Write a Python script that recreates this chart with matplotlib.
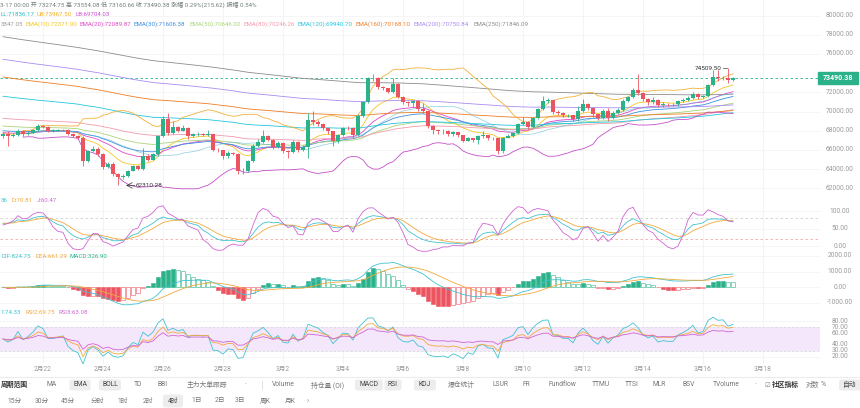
import numpy as np
import pandas as pd
import matplotlib
matplotlib.use("Agg")
import matplotlib.pyplot as plt
from matplotlib.patches import FancyBboxPatch, Rectangle

plt.rcParams['font.family'] = ['Roboto', 'Noto Sans CJK SC', 'DejaVu Sans']

W, H = 860, 408

# 4h candles, 2月20 16:00 -> 3月17 00:00
first_open = 67500
closes = [67650, 67500, 67600, 68000, 67650, 67800, 68050, 68500, 68400, 68000,
          68000, 68050, 68100, 67700, 67450, 67300, 64850, 65850, 66150, 65600,
          64200, 64550, 63500, 63150, 63250, 63850, 64300, 64050, 65400, 65000,
          65550, 67500, 69250, 67800, 68350, 68000, 68300, 67450, 67650, 67650,
          67600, 67650, 66050, 65950, 65350, 65700, 65600, 63800, 63850, 64850,
          66400, 66800, 67500, 67000, 66300, 66700, 65900, 65800, 66800, 66000,
          66350, 69100, 68900, 68700, 68250, 67950, 66950, 67550, 68300, 68250,
          67600, 69500, 71000, 73450, 73550, 72600, 72450, 72050, 72900, 71550,
          70950, 70850, 71100, 70300, 70100, 68550, 68100, 67950, 68000, 67650,
          67850, 67550, 66950, 67250, 67000, 67450, 67550, 67250, 67200, 65900,
          67300, 67500, 67750, 68750, 68950, 68350, 69350, 70300, 71150, 71250,
          69950, 69900, 69600, 69600, 69200, 70100, 70800, 70400, 69700, 69300,
          70100, 69300, 69900, 70200, 71150, 71500, 72250, 71900, 71300, 71050,
          71200, 70700, 70800, 70750, 70750, 71100, 71250, 71450, 71800, 71500,
          71600, 72800, 73600, 73450, 73550, 73274.75, 73490.38]
highs = [67900, 68000, 67800, 68200, 68100, 67950, 68200, 68700, 68650, 68450,
         68150, 68150, 68200, 68200, 67800, 67550, 67450, 66000, 66400, 66300,
         65700, 64700, 64800, 63600, 63450, 63950, 64400, 64450, 66200, 65600,
         65650, 67600, 69500, 69850, 69050, 68500, 68600, 68400, 67800, 67900,
         67800, 68100, 67700, 66200, 66000, 65900, 65800, 65700, 64100, 65000,
         66600, 67100, 68100, 67600, 67100, 66900, 66800, 66000, 67000, 66900,
         66500, 69900, 70100, 69100, 68800, 68300, 68000, 67700, 68400, 68450,
         68400, 69700, 71150, 73600, 73950, 73650, 72700, 72500, 73450, 72950,
         71600, 71100, 71200, 71200, 70900, 70200, 68600, 68150, 68200, 68050,
         68000, 67900, 67600, 67400, 67300, 67550, 68000, 67600, 67400, 67250,
         67400, 67650, 67850, 68850, 69400, 69050, 69450, 70400, 71600, 71400,
         71300, 70200, 69950, 69800, 69650, 70600, 71300, 70850, 70450, 69800,
         70300, 70400, 70100, 70400, 71300, 71600, 72500, 73950, 72000, 71400,
         71500, 71300, 70950, 70900, 70900, 71200, 71400, 71600, 72000, 71900,
         71750, 72900, 74350, 74300, 73750, 74509.50, 73554.08]
lows = [67300, 66450, 67350, 67500, 67500, 67600, 67750, 67950, 68300, 67900,
        67900, 67950, 67950, 67600, 67350, 67150, 64300, 64750, 65750, 65400,
        64000, 64100, 63300, 62310.28, 62950, 63150, 63800, 63900, 63950, 64900,
        64950, 65400, 67400, 67600, 67700, 67900, 67950, 67100, 67350, 67500,
        67450, 67500, 65900, 65800, 65100, 65200, 65450, 63450, 63500, 63700,
        64700, 66300, 66700, 66900, 66100, 66200, 65700, 65200, 65700, 65800,
        65900, 65200, 68600, 68500, 68100, 67700, 66400, 66700, 67500, 68100,
        67300, 67500, 69400, 70900, 73200, 72400, 72300, 71900, 71900, 71400,
        70800, 70600, 70500, 70100, 69900, 68300, 67700, 67650, 67700, 67500,
        67500, 67400, 66800, 66900, 66800, 66600, 67300, 67050, 67000, 65550,
        65700, 67200, 67400, 67650, 68650, 68200, 68250, 69250, 70200, 70900,
        69800, 69600, 69400, 69400, 69000, 69000, 70000, 70200, 69400, 69100,
        69200, 69000, 69200, 69800, 70100, 71000, 71400, 71700, 71100, 70700,
        70800, 70500, 70500, 70600, 70600, 70600, 71000, 71100, 71300, 71300,
        71400, 71500, 72700, 73200, 73300, 72950, 73160.66]

date_labels = ['2月22', '2月24', '2月26', '2月28', '3月2', '3月4', '3月6',
               '3月8', '3月10', '3月12', '3月14', '3月16', '3月18']
date_first_index = 8  # candle index of 2月22 00:00

ema_periods = [10, 20, 30, 50, 80, 120, 160, 200, 250]
ema_start = [67700, 67800, 68000, 68500, 69300, 71600, 73600, 75450, 77800]
ema_values = ['72371.90', '72089.87', '71606.38', '70646.02', '70246.26',
              '69940.70', '70168.10', '70750.84', '71846.09']
ema_colors = ['#f3c623', '#e046c6', '#3a8ee0', '#a9d37a', '#f29aac',
              '#23c6de', '#ee7d26', '#a98cf0', '#8c8c8c']

# starting levels of the oscillators at the left edge
kdj_start = 66
rsi_start_avg = 160

price_ticks = [80000, 78000, 76000, 72000, 70000, 68000, 66000, 64000, 62000]
kdj_ticks = [100, 50, 0]
macd_ticks = [2000, 1000, 0, -1000]
rsi_ticks = [80, 70, 60, 40, 30, 20]

UP = '#2bb28a'
DOWN = '#ec5560'
C1, C2, C3 = '#3fc3cf', '#f2a93b', '#d064d4'

c = pd.Series(closes, dtype=float)
hi = pd.Series(highs, dtype=float)
lo = pd.Series(lows, dtype=float)
o = pd.Series([first_open] + closes[:-1], dtype=float)
n = len(c)
x = np.arange(n)


def ema_from(values, period, start):
    a = 2 / (period + 1)
    out = [start]
    for v in values[1:]:
        out.append(a * v + (1 - a) * out[-1])
    return np.array(out)


# indicators
boll_mid = c.rolling(20, min_periods=5).mean()
boll_sd = c.rolling(20, min_periods=5).std(ddof=0)
boll_up = boll_mid + 2 * boll_sd
boll_lo = boll_mid - 2 * boll_sd

low9 = lo.rolling(9, min_periods=1).min()
high9 = hi.rolling(9, min_periods=1).max()
rsv = ((c - low9) / (high9 - low9) * 100).values
k_line, d_line = [kdj_start], [kdj_start]
for r in rsv:
    k_line.append(k_line[-1] * 2 / 3 + r / 3)
    d_line.append(d_line[-1] * 2 / 3 + k_line[-1] / 3)
k_line = np.array(k_line[1:])
d_line = np.array(d_line[1:])
j_line = 3 * k_line - 2 * d_line

dif = c.ewm(span=12, adjust=False).mean() - c.ewm(span=26, adjust=False).mean()
dea = dif.ewm(span=9, adjust=False).mean()
hist = 2 * (dif - dea)

delta = c.diff().fillna(0).values
rsi = {}
for p in (6, 12, 24):
    g = l = rsi_start_avg
    vals = []
    for d in delta:
        g = g * (1 - 1 / p) + max(d, 0) / p
        l = l * (1 - 1 / p) + max(-d, 0) / p
        vals.append(100 * g / (g + l))
    rsi[p] = np.array(vals)

fig = plt.figure(figsize=(W / 100, H / 100), dpi=100)
fig.patch.set_facecolor('white')


def panel(top, bottom, ymin, ymax):
    ax = fig.add_axes([0, 1 - bottom / H, 820 / W, (bottom - top) / H])
    ax.set_xlim(-0.6, 163.4)
    ax.set_ylim(ymin, ymax)
    ax.set_axis_off()
    for k in range(len(date_labels)):
        ax.axvline(date_first_index + 12 * k, color='#f3f3f3', lw=0.6, zorder=0)
    return ax


def right_labels(ax, ticks, fmt='{:.2f}'):
    tr = ax.get_yaxis_transform()
    for t in ticks:
        ax.text(840 / 820, t, fmt.format(t), transform=tr, ha='center', va='center',
                fontsize=4.8, color='#9a9a9a', clip_on=False)
        ax.axhline(t, color='#f4f4f4', lw=0.6, zorder=0)


def ftext(px, py, s, **kw):
    kw.setdefault('fontsize', 4.4)
    kw.setdefault('va', 'center')
    fig.text(px / W, 1 - py / H, s, **kw)


# main price panel
ax = panel(0, 197, 61104, 81625)
right_labels(ax, price_ticks)
for period, start, col in zip(ema_periods, ema_start, ema_colors):
    ax.plot(x, ema_from(closes, period, start), color=col, lw=0.6, zorder=2)
ax.plot(x, boll_up, color='#f2b23a', lw=0.6, zorder=2)
ax.plot(x, boll_mid, color='#5fb8d0', lw=0.5, zorder=2, alpha=0.7)
ax.plot(x, boll_lo, color='#c450c8', lw=0.6, zorder=2)

cols = np.where(c >= o, UP, DOWN)
ax.vlines(x, lo, hi, colors=cols, lw=0.6, zorder=3)
body = np.maximum((c - o).abs(), 60)
ax.bar(x, body, bottom=np.minimum(o, c), width=0.7, color=cols, zorder=4)

last = closes[-1]
ax.axhline(last, color=UP, lw=0.6, ls=(0, (3, 3)), zorder=1)
fig.patches.append(Rectangle((818 / W, 1 - 84 / H), 40 / W, 12 / H,
                             transform=fig.transFigure, color=UP))
ftext(838, 78, f'{last:.2f}', ha='center', color='white', fontsize=5, weight='bold')

# high / low marks
hi_i = int(np.argmax(highs))
lo_i = int(np.argmin(lows))
ax.plot([hi_i - 1.0, hi_i - 0.3], [highs[hi_i]] * 2, color='#444', lw=0.5)
ax.text(hi_i - 1.2, highs[hi_i], f'{highs[hi_i]:.2f}', ha='right', va='center',
        fontsize=4.6, color='#333')
ax.annotate('', xy=(lo_i + 1.6, lows[lo_i]), xytext=(lo_i + 3.4, lows[lo_i]),
            arrowprops=dict(arrowstyle='->', lw=0.5, color='#333', shrinkA=0, shrinkB=0))
ax.text(lo_i + 3.6, lows[lo_i], f'{lows[lo_i]:.2f}', ha='left', va='center',
        fontsize=4.6, color='#333')

# header text (the left end is scrolled out of view in the original)
ftext(0.5, 5, '3-17 00:00 开 73274.75 高 73554.08 低 73160.66 收 73490.38 '
      '涨幅 0.29%(215.62) 振幅 0.54%', color='#6f7f7c')
ftext(0.5, 14, 'LL:71836.17', color='#2fb8c6')
ftext(37, 14, 'UB:73967.50', color='#f0b020')
ftext(76, 14, 'LB:69704.03', color='#d050d8')
ftext(0.5, 24, '3347.05', color='#9a9a9a')
ema_x = [26, 80, 134, 189, 244, 298, 356, 414, 474]
for px_, period, val, col in zip(ema_x, ema_periods, ema_values, ema_colors):
    ftext(px_, 24, f'EMA({period}):{val}', color=col)

# KDJ
ax = panel(197, 252, -17.1, 140)
right_labels(ax, kdj_ticks)
ax.axhline(80, color='#cfcfcf', lw=0.6, ls=(0, (3, 3)))
ax.axhline(20, color='#f3a9a9', lw=0.6, ls=(0, (3, 3)))
ax.plot(x, k_line, color=C1, lw=0.6)
ax.plot(x, d_line, color=C2, lw=0.6)
ax.plot(x, j_line, color=C3, lw=0.6)
ftext(0.5, 201, '36', color=C1)
ftext(12, 201, 'D:70.81', color=C2)
ftext(37, 201, 'J:60.47', color=C3)

# MACD
ax = panel(252, 308, -1321, 2253)
right_labels(ax, macd_ticks)
prev = hist.shift(1).fillna(0)
for i in range(n):
    v = hist[i]
    col = UP if v >= 0 else DOWN
    rising = abs(v) >= abs(prev[i])
    ax.bar(i, v, width=0.7, facecolor=col if rising else 'white',
           edgecolor=col, lw=0.4)
ax.plot(x, dif, color=C1, lw=0.6)
ax.plot(x, dea, color=C2, lw=0.6)
ftext(1, 257, 'DIF:824.75', color=C1)
ftext(35, 257, 'DEA:661.29', color=C2)
ftext(70, 257, 'MACD:326.90', color=UP)

# RSI
ax = panel(308, 364, 8.3, 101.7)
right_labels(ax, rsi_ticks)
ax.fill_between([-0.6, 163.4], 30, 70, color='#f4e6fb', lw=0, zorder=0)
ax.axhline(70, color='#d5d5d5', lw=0.5, ls=(0, (3, 3)))
ax.axhline(30, color='#d5d5d5', lw=0.5, ls=(0, (3, 3)))
ax.plot(x, rsi[6], color=C1, lw=0.6)
ax.plot(x, rsi[12], color=C2, lw=0.6)
ax.plot(x, rsi[24], color=C3, lw=0.6)
ftext(0.5, 313, '1:74.33', color=C1)
ftext(26, 313, 'RSI2:69.75', color=C2)
ftext(58, 313, 'RSI3:63.08', color=C3)

# date axis
for k, lab in enumerate(date_labels):
    ftext(5 * (date_first_index + 12 * k) + 3, 369, lab, ha='center',
          color='#9a9a9a', fontsize=4.8)

# toolbar
fig.add_artist(plt.Line2D([0, 1], [1 - 376.5 / H] * 2, color='#ececec', lw=0.8))


def chip(cx, cy, w, h):
    fig.patches.append(FancyBboxPatch(((cx - w / 2) / W, 1 - (cy + h / 2) / H), w / W, h / H,
                                      boxstyle='round,pad=0,rounding_size=0.004',
                                      transform=fig.transFigure, color='#ededed', lw=0))


row1 = [('MA', 52), ('EMA', 80), ('BOLL', 110), ('TD', 138), ('BBI', 163),
        ('主力大单跟踪', 207), ('·', 245), ('Volume', 283), ('持仓量 (OI)', 328),
        ('MACD', 369), ('RSI', 393), ('KDJ', 425), ('爆仓统计', 461), ('LSUR', 500),
        ('FR', 526), ('Fundflow', 562), ('TTMU', 601), ('TTSI', 632), ('MLR', 659),
        ('BSV', 689), ('TVolume', 726), ('·', 755), ('对数', 812), ('%', 823), ('自动', 850)]
row1_on = {'EMA': 21, 'BOLL': 22, 'MACD': 28, 'RSI': 17, 'KDJ': 22, '自动': 22}
for lab, cx in row1:
    if lab in row1_on:
        chip(cx, 385, row1_on[lab], 11)
    ftext(cx, 385, lab, ha='center', fontsize=4.9,
          color='#444' if lab in row1_on else '#777')
ftext(0.5, 385, '周期范围', ha='left', fontsize=4.9, color='#333', weight='bold')
ftext(29, 385, '·', ha='center', fontsize=4.9, color='#999')
fig.add_artist(plt.Line2D([262 / W] * 2, [1 - 381 / H, 1 - 389 / H], color='#dddddd', lw=0.6))
ftext(767, 385, '☑', ha='center', fontsize=4.6, color='#888')
ftext(785, 385, '社区指标', ha='center', fontsize=4.9, color='#333', weight='bold')

row2 = [('15分', 15), ('30分', 42), ('45分', 68), ('分时', 97), ('1时', 123),
        ('2时', 148), ('4时', 173), ('1日', 197), ('2日', 220), ('3日', 240),
        ('周K', 265), ('月K', 290), ('›', 308)]
for lab, cx in row2:
    if lab == '4时':
        chip(cx, 401, 20, 13)
    ftext(cx, 401, lab, ha='center', fontsize=4.9,
          color='#444' if lab == '4时' else '#777')

fig.savefig('out.png', dpi=100, facecolor='white')
